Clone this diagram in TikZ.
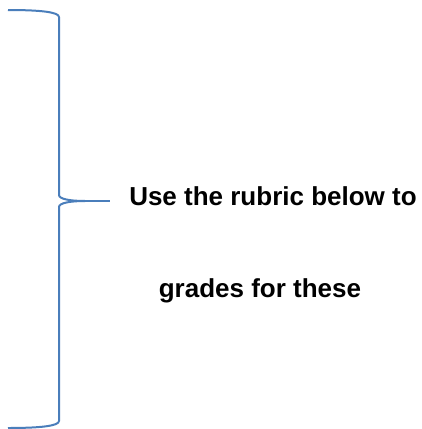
\documentclass[tikz,border=0pt]{standalone}
\usepackage{fontspec}
\setmainfont{Liberation Sans}
\definecolor{braceblue}{HTML}{4A7EBB}
\begin{document}
\begin{tikzpicture}[x=1pt,y=-1pt,
  bracestyle/.style={draw=braceblue,line width=2pt,line join=round},
  lbl/.style={font=\fontsize{26}{30}\selectfont\bfseries,inner sep=0pt,anchor=base}]
\useasboundingbox (0,0) rectangle (422,429);
\fill[white] (0,0) rectangle (422,429);
\draw[bracestyle] (8,10) .. controls (40,10) and (59,12) .. (59,17)
  -- (59,195) .. controls (59,199) and (70,201) .. (85,201)
  .. controls (70,201) and (59,203) .. (59,207)
  -- (59,421) .. controls (59,426) and (40,428) .. (8,428);
\draw[bracestyle] (85,201) -- (110,201);
\node[lbl] (l1) at (273,205) {Use the rubric below to};
\node[lbl] (l2) at (260,297) {grades for these};
\end{tikzpicture}
\end{document}
